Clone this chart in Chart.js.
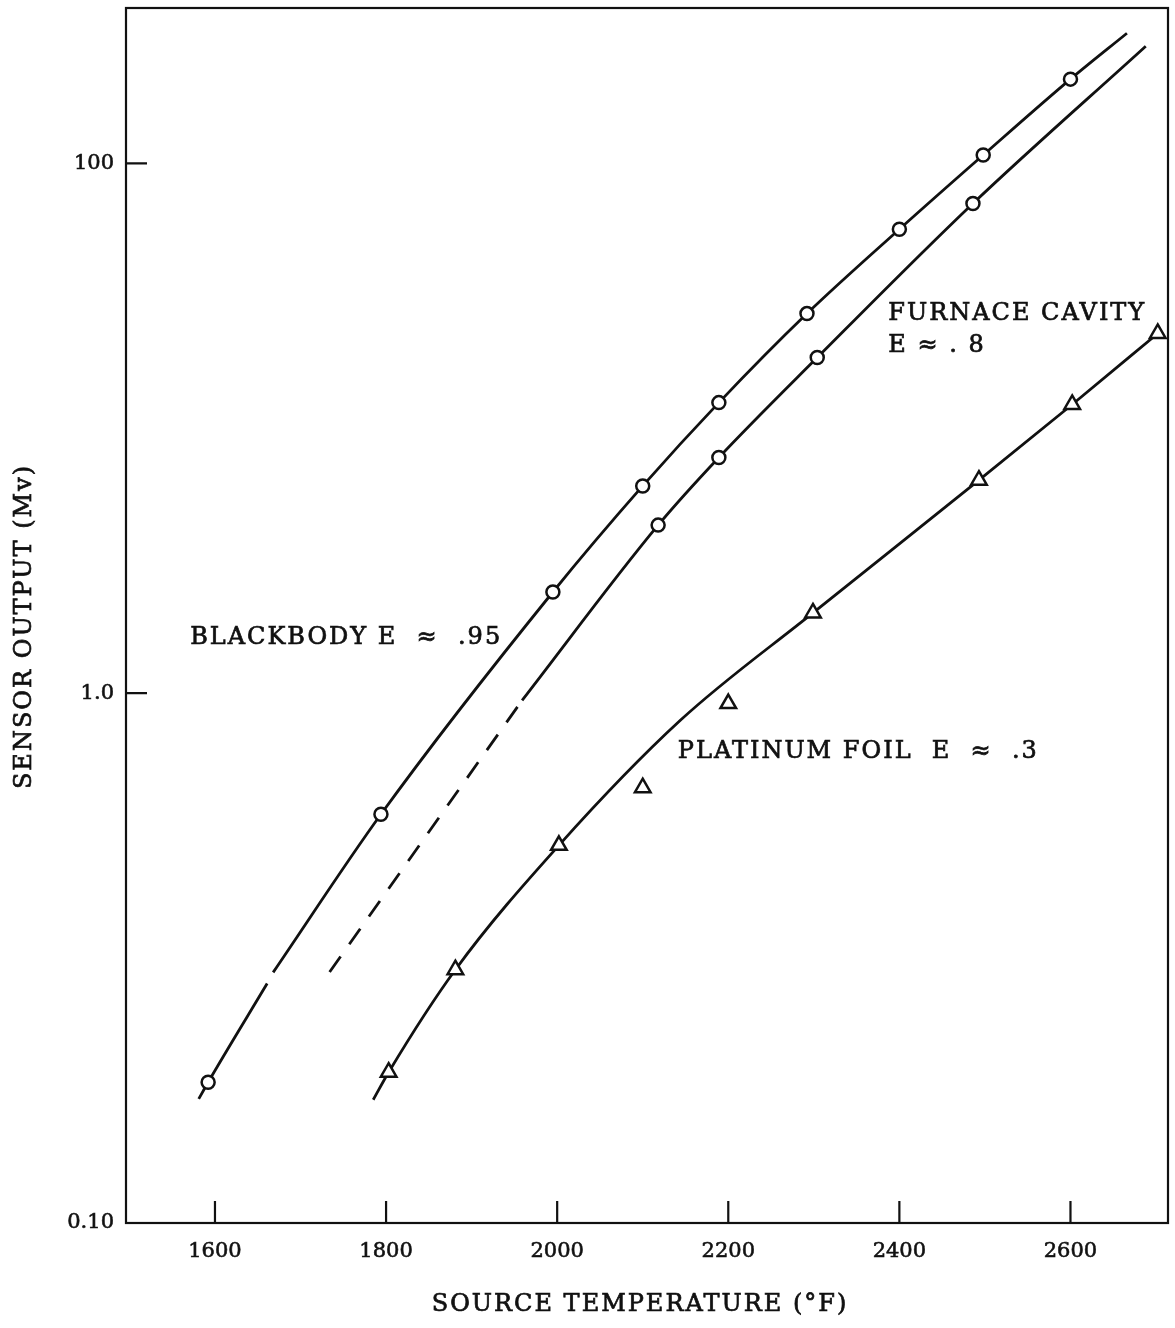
<!DOCTYPE html>
<html>
<head>
<meta charset="utf-8">
<script src="https://cdn.jsdelivr.net/npm/chart.js@4/dist/chart.umd.min.js"></script>
<style>
  html, body { margin: 0; padding: 0; background: #fff; }
  canvas { display: block; }
</style>
</head>
<body>
<canvas id="chart" width="1175" height="1328"></canvas>
<script>
// Blackbody E ≈ .95 (circles)
const bbTemp = [1592, 1794, 1995, 2100, 2189, 2292, 2400, 2498, 2600];
const bbOutput = [0.034, 0.349, 2.41, 6.06, 12.5, 27.1, 56.4, 107.5, 208];
// drawn curve (null = small break in the original line)
const bbCurveTemp = [1581, 1592, 1661, 1664, 1668, 1794, 1995, 2100, 2189, 2292, 2400, 2498, 2600, 2666];
const bbCurveOutput = [0.0294, 0.034, 0.0802, null, 0.0883, 0.349, 2.41, 6.06, 12.5, 27.1, 56.4, 107.5, 208, 310];

// Furnace cavity E ≈ .8 (circles)
const fcTemp = [2118, 2189, 2304, 2486];
const fcOutput = [4.31, 7.76, 18.5, 70.6];
const fcCurveTemp = [1959, 2118, 2189, 2304, 2486, 2688];
const fcCurveOutput = [0.94, 4.31, 7.76, 18.5, 70.6, 277];
// dashed extrapolation
const fcDashTemp = [1734, 1959];
const fcDashOutput = [0.0886, 0.94];

// Platinum foil E ≈ .3 (triangles)
const ptTemp = [1803, 1881, 2002, 2100, 2200, 2299, 2493, 2602, 2702];
const ptOutput = [0.0371, 0.0904, 0.2665, 0.44, 0.9135, 2.01, 6.37, 12.3, 22.8];
const ptCurveTemp = [1785, 1803, 1881, 2002, 2144, 2299, 2493, 2602, 2702];
const ptCurveOutput = [0.0292, 0.0371, 0.0904, 0.2665, 0.79, 2.01, 6.37, 12.3, 22.8];

const xTickValues = [1600, 1800, 2000, 2200, 2400, 2600];
// the original prints "0.10" at the bottom of the axis (two decades below 1.0)
const yTickValues = [0.01, 1, 100];
const yTickLabels = ['0.10', '1.0', '100'];

const ink = '#111';
const serif = '"DejaVu Serif", "Liberation Serif", serif';

// curve labels, anchored in data space
const notes = [
  { text: 'FURNACE CAVITY', x: 2387, y: 25.6 },
  { text: 'E ≈ . 8', x: 2387, y: 19.4 },
  { text: 'BLACKBODY E  ≈  .95', x: 1571, y: 1.54 },
  { text: 'PLATINUM FOIL  E  ≈  .3', x: 2141, y: 0.568 }
];

const toPoints = (xs, ys) => xs.map((x, i) => ({ x: x, y: ys[i] }));

const markerSet = (pts, style, r) => ({
  data: pts,
  showLine: false,
  pointStyle: style,
  pointRadius: r,
  pointHoverRadius: r,
  pointBorderWidth: 2.5,
  pointBorderColor: ink,
  pointBackgroundColor: '#fff',
  order: 0
});

const curveSet = (pts, dash) => ({
  data: pts,
  showLine: true,
  pointRadius: 0,
  pointHoverRadius: 0,
  borderColor: ink,
  borderWidth: 2.8,
  borderDash: dash || [],
  cubicInterpolationMode: dash ? 'default' : 'monotone',
  tension: 0,
  spanGaps: false,
  fill: false,
  order: 1
});

// frame, inward ticks, labels and axis titles
const paperPlugin = {
  id: 'paper',
  afterDraw(chart) {
    const { ctx, chartArea: a, scales } = chart;
    const x = scales.x, y = scales.y;
    ctx.save();
    ctx.strokeStyle = ink;
    ctx.lineWidth = 2.2;
    ctx.strokeRect(a.left, a.top, a.right - a.left, a.bottom - a.top);

    ctx.beginPath();
    xTickValues.forEach(v => {
      const px = x.getPixelForValue(v);
      ctx.moveTo(px, a.bottom);
      ctx.lineTo(px, a.bottom - 22);
    });
    yTickValues.forEach(v => {
      const py = y.getPixelForValue(v);
      ctx.moveTo(a.left, py);
      ctx.lineTo(a.left + 21, py);
    });
    ctx.stroke();

    ctx.fillStyle = ink;
    ctx.lineWidth = 0.7;
    ctx.font = '24px ' + serif;
    ctx.letterSpacing = '2px';
    ctx.textAlign = 'left';
    ctx.textBaseline = 'alphabetic';
    notes.forEach(n => {
      const px = x.getPixelForValue(n.x), py = y.getPixelForValue(n.y);
      ctx.fillText(n.text, px, py);
      ctx.strokeText(n.text, px, py);
    });

    ctx.textAlign = 'center';
    ctx.textBaseline = 'middle';
    const tx = (a.left + a.right) / 2 - 7;
    ctx.fillText('SOURCE TEMPERATURE (°F)', tx, 1305);
    ctx.strokeText('SOURCE TEMPERATURE (°F)', tx, 1305);
    ctx.translate(25, (a.top + a.bottom) / 2 + 11);
    ctx.rotate(-Math.PI / 2);
    ctx.fillText('SENSOR OUTPUT (Mv)', 0, 0);
    ctx.strokeText('SENSOR OUTPUT (Mv)', 0, 0);
    ctx.restore();
  }
};

const chart = new Chart(document.getElementById('chart'), {
  type: 'scatter',
  data: {
    datasets: [
      markerSet(toPoints(bbTemp, bbOutput), 'circle', 6.5),
      markerSet(toPoints(fcTemp, fcOutput), 'circle', 6.5),
      markerSet(toPoints(ptTemp, ptOutput), 'triangle', 9),
      curveSet(toPoints(bbCurveTemp, bbCurveOutput)),
      curveSet(toPoints(fcCurveTemp, fcCurveOutput)),
      curveSet(toPoints(fcDashTemp, fcDashOutput), [19, 15]),
      curveSet(toPoints(ptCurveTemp, ptCurveOutput))
    ]
  },
  options: {
    responsive: false,
    animation: false,
    layout: { autoPadding: false, padding: { top: 8, right: 7, left: 0, bottom: 0 } },
    plugins: {
      legend: { display: false },
      tooltip: { enabled: false }
    },
    scales: {
      x: {
        type: 'linear',
        min: 1496,
        max: 2714,
        grid: { display: false, drawTicks: false },
        border: { display: false },
        afterBuildTicks: s => { s.ticks = xTickValues.map(v => ({ value: v })); },
        afterFit: s => { s.height = 105; s.paddingLeft = 0; s.paddingRight = 0; },
        ticks: {
          color: ink,
          padding: 16,
          font: { family: serif, size: 21 },
          textStrokeColor: ink,
          textStrokeWidth: 0.6,
          callback: v => String(v)
        }
      },
      y: {
        type: 'logarithmic',
        min: 0.01,
        max: 386,
        grid: { display: false, drawTicks: false },
        border: { display: false },
        afterBuildTicks: s => { s.ticks = yTickValues.map(v => ({ value: v })); },
        afterFit: s => { s.width = 126; s.paddingTop = 0; s.paddingBottom = 0; },
        ticks: {
          color: ink,
          padding: 12,
          font: { family: serif, size: 21 },
          textStrokeColor: ink,
          textStrokeWidth: 0.6,
          callback: (v, i) => yTickLabels[i]
        }
      }
    }
  },
  plugins: [paperPlugin]
});
</script>
</body>
</html>
